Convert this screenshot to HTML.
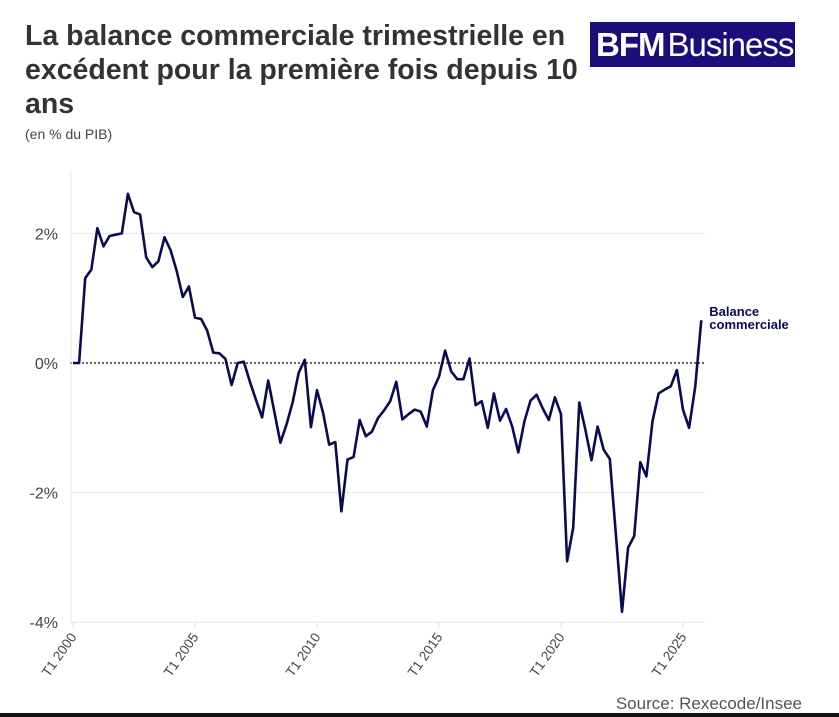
<!DOCTYPE html>
<html><head><meta charset="utf-8"><style>
body{margin:0;width:839px;height:717px;background:#fff;overflow:hidden;font-family:"Liberation Sans",sans-serif;position:relative}
#title{position:absolute;left:25px;top:19px;width:560px;font-size:28.5px;font-weight:bold;line-height:34px;color:#333}
#sub{position:absolute;left:25px;top:126px;font-size:14px;color:#444}
#logo{position:absolute;left:590px;top:22px;width:205px;height:45px;background:#1b0e7a;color:#fff;font-size:33px;line-height:45px;letter-spacing:-1px;white-space:nowrap;overflow:hidden}
#src{position:absolute;right:37px;top:694px;font-size:17px;color:#555}
#bar{position:absolute;left:0;top:713px;width:839px;height:4px;background:#111}
</style></head><body>
<div id="title">La balance commerciale trimestrielle en excédent pour la première fois depuis 10 ans</div>
<div id="sub">(en % du PIB)</div>
<div id="logo"><b style="margin-left:6px">BFM</b><span style="margin-left:3px">Business</span></div>
<svg id="chart" width="839" height="717" style="position:absolute;left:0;top:0"></svg>
<div id="src">Source: Rexecode/Insee</div>
<div id="bar"></div>
<script>
const yTicks=[2,0,-2,-4];
const yTickLabels=["2%","0%","-2%","-4%"];
const xTickIdx=[0,20,40,60,80,100];
const xTickLabels=["T1 2000","T1 2005","T1 2010","T1 2015","T1 2020","T1 2025"];
const values=[0,0,1.31,1.44,2.08,1.8,1.96,1.98,2.0,2.61,2.33,2.29,1.63,1.48,1.57,1.94,1.74,1.42,1.02,1.18,
0.70,0.68,0.50,0.16,0.15,0.06,-0.34,0,0.02,-0.29,-0.57,-0.84,-0.27,-0.75,-1.23,-0.95,-0.61,-0.15,0.05,-0.99,
-0.42,-0.77,-1.26,-1.22,-2.29,-1.49,-1.45,-0.88,-1.13,-1.06,-0.85,-0.73,-0.59,-0.29,-0.87,-0.79,-0.72,-0.75,-0.98,-0.42,
-0.21,0.19,-0.13,-0.25,-0.25,0.07,-0.65,-0.59,-1.0,-0.47,-0.89,-0.71,-0.98,-1.38,-0.90,-0.58,-0.49,-0.7,-0.88,-0.53,
-0.79,-3.06,-2.54,-0.61,-1.03,-1.50,-0.98,-1.34,-1.48,-2.65,-3.84,-2.85,-2.67,-1.53,-1.75,-0.90,-0.47,-0.41,-0.36,-0.11,
-0.72,-1.0,-0.37,0.66];
const seriesLabel=["Balance","commerciale"];
const NS="http://www.w3.org/2000/svg",svg=document.getElementById('chart');
const X=i=>73+i*6.1, Y=v=>363-v*64.8;
function mk(t,a){const e=document.createElementNS(NS,t);for(const k in a)e.setAttribute(k,a[k]);svg.appendChild(e);return e;}
yTicks.forEach((v,i)=>{
 const g=mk('line',{x1:70,x2:705,y1:Y(v),y2:Y(v),stroke:v===0?'#333':'#e8e8e8','stroke-width':v===0?1.5:1,'stroke-dasharray':v===0?'2,2':''});
 
 
 const t=mk('text',{x:58,y:Y(v)+6,'text-anchor':'end','font-size':16,fill:'#444'});t.textContent=yTickLabels[i];
 
 
});
const ax=mk('line',{x1:71,x2:71,y1:170,y2:623,stroke:'#e8e8e8'});


xTickIdx.forEach((q,i)=>{
 const x=X(q);
 const tk=mk('line',{x1:x,x2:x,y1:622,y2:628,stroke:'#ddd'});
 
 
 const t=mk('text',{x:x+4,y:637,'text-anchor':'end','font-size':13.5,fill:'#444',transform:`rotate(-55 ${x+4} 637)`});t.textContent=xTickLabels[i];
 
 
});
const pl=mk('polyline',{points:values.map((v,i)=>X(i)+','+Y(v)).join(' '),fill:'none',stroke:'#0b0a55','stroke-width':2.6,'stroke-linejoin':'round'});


const last=values.length-1;
seriesLabel.forEach((s,i)=>{
 const t=mk('text',{x:X(last)+8,y:Y(values[last])-4+i*13,'font-size':13,'font-weight':'bold',fill:'#0b0a55'});t.textContent=s;
 
 
});
</script>
</body></html>
